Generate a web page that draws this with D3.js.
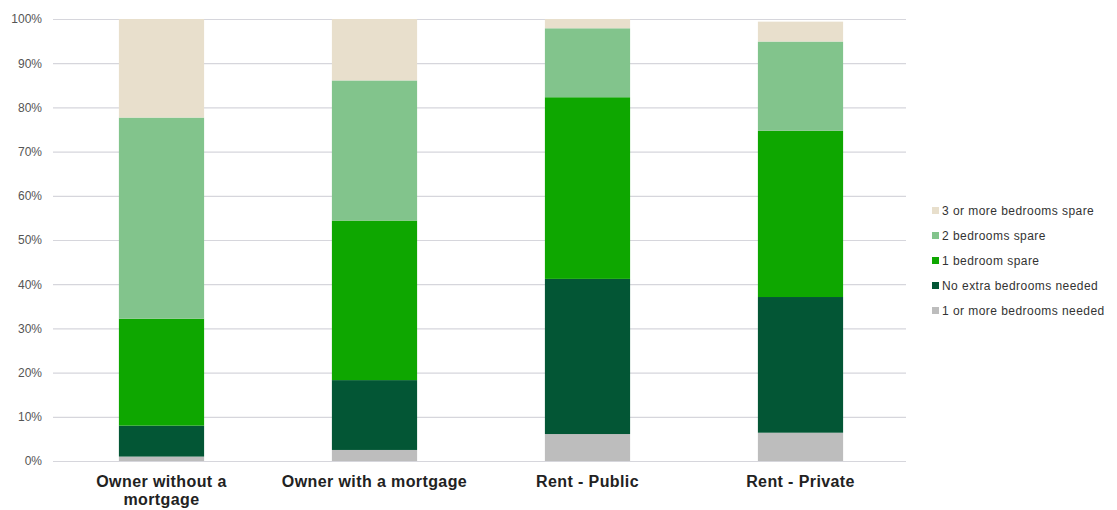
<!DOCTYPE html>
<html>
<head>
<meta charset="utf-8">
<script src="https://cdn.jsdelivr.net/npm/d3@7"></script>
<style>
  html, body { margin: 0; padding: 0; background: #fff; }
  svg { display: block; }
</style>
</head>
<body>
<svg id="chart" width="1117" height="510"></svg>
<script>
const categories = ["Owner without a mortgage", "Owner with a mortgage", "Rent - Public", "Rent - Private"];
const categoryLines = [["Owner without a", "mortgage"], ["Owner with a mortgage"], ["Rent - Public"], ["Rent - Private"]];
const seriesNames = ["1 or more bedrooms needed", "No extra bedrooms needed", "1 bedroom spare", "2 bedrooms spare", "3 or more bedrooms spare"];
const needed1 = [1.0, 2.5, 6.1, 6.4];
const noExtra = [7.0, 15.8, 35.1, 30.7];
const spare1 = [24.2, 36.1, 41.1, 37.6];
const spare2 = [45.5, 31.7, 15.6, 20.2];
const spare3plus = [22.3, 13.9, 2.1, 4.5];
const yTicks = [0, 10, 20, 30, 40, 50, 60, 70, 80, 90, 100];
const colors = ["#bdbdbd", "#035635", "#0ea700", "#82c48c", "#e8dfcc"];

const seriesValues = [needed1, noExtra, spare1, spare2, spare3plus];
const rows = categories.map((c, i) => {
  const r = { category: c };
  seriesNames.forEach((s, j) => { r[s] = seriesValues[j][i]; });
  return r;
});

const svg = d3.select("#chart");

const x = d3.scaleBand().domain(categories).range([55, 907]).paddingInner(0.6).paddingOuter(0.3);
const y = d3.scaleLinear().domain([0, 100]).range([461, 19]);

// gridlines + y labels
const yAxis = d3.axisLeft(y).tickValues(yTicks).tickFormat(d => d + "%").tickSize(-(906 - 53)).tickPadding(11);
const gy = svg.append("g").attr("transform", "translate(53,0)").call(yAxis);
gy.select(".domain").remove();
gy.selectAll(".tick line").attr("stroke", "#d6d6dc").attr("stroke-width", 1.2);
gy.selectAll(".tick text")
  .attr("fill", "#555")
  .attr("font-family", "'Liberation Sans', Arial, sans-serif")
  .attr("font-size", 12);

// stacked bars
const stack = d3.stack().keys(seriesNames);
const stacked = stack(rows);
svg.append("g").selectAll("g")
  .data(stacked)
  .join("g")
  .attr("fill", (d, i) => colors[i])
  .selectAll("rect")
  .data(d => d)
  .join("rect")
  .attr("x", d => x(d.data.category))
  .attr("width", x.bandwidth())
  .attr("y", d => y(d[1]))
  .attr("height", d => y(d[0]) - y(d[1]));

// category labels
const xl = svg.append("g");
categories.forEach((c, i) => {
  const cx = x(c) + x.bandwidth() / 2;
  const t = xl.append("text")
    .attr("x", cx)
    .attr("y", 487)
    .attr("text-anchor", "middle")
    .attr("font-family", "'Liberation Sans', Arial, sans-serif")
    .attr("font-weight", "bold")
    .attr("font-size", 16)
    .attr("letter-spacing", 0.4)
    .attr("fill", "#222");
  categoryLines[i].forEach((line, k) => {
    t.append("tspan").attr("x", cx).attr("dy", k === 0 ? 0 : 18).text(line);
  });
});

// legend (reverse order)
const legendOrder = seriesNames.map((s, i) => i).reverse();
const lg = svg.append("g").attr("transform", "translate(932,207)");
legendOrder.forEach((si, k) => {
  const g = lg.append("g").attr("transform", `translate(0,${k * 25})`);
  g.append("rect").attr("width", 7).attr("height", 7).attr("fill", colors[si]);
  g.append("text")
    .attr("x", 10)
    .attr("y", 7.5)
    .attr("font-family", "'Liberation Sans', Arial, sans-serif")
    .attr("font-size", 12)
    .attr("letter-spacing", 0.45)
    .attr("fill", "#333")
    .text(seriesNames[si]);
});
</script>
</body>
</html>
